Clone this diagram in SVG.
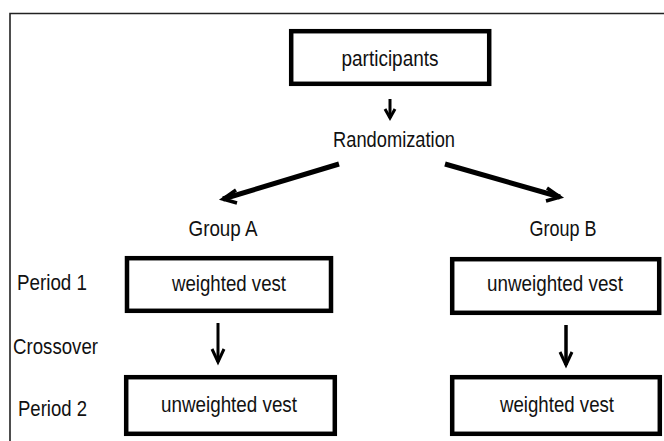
<svg xmlns="http://www.w3.org/2000/svg" width="664" height="441" viewBox="0 0 664 441">
<style>
.box{fill:#fff;stroke:#000;stroke-width:4.5}
.t{font-family:"Liberation Sans",Arial,sans-serif;font-size:22px;fill:#111;text-anchor:middle}
.l{text-anchor:start}
.c{fill:none;stroke:#000;stroke-linecap:butt;stroke-linejoin:miter}
</style>
<rect width="664" height="441" fill="#fff"/>
<g id="frame"><path d="M10 441 V13.5 H664" fill="none" stroke="#222" stroke-width="1.6"/></g>
<g id="participants"><rect class="box" x="291.2" y="31.2" width="198" height="52.6"/><text class="t" x="390" y="66" textLength="97" lengthAdjust="spacingAndGlyphs">participants</text></g>
<g id="randomization"><text class="t" x="394" y="147" textLength="122" lengthAdjust="spacingAndGlyphs">Randomization</text></g>
<g id="groupA"><text class="t" x="223" y="236" textLength="69" lengthAdjust="spacingAndGlyphs">Group A</text></g>
<g id="groupB"><text class="t" x="563" y="236" textLength="67" lengthAdjust="spacingAndGlyphs">Group B</text></g>
<g id="period1"><text class="t l" x="17" y="290" textLength="70" lengthAdjust="spacingAndGlyphs">Period 1</text></g>
<g id="crossover"><text class="t l" x="13" y="354" textLength="85" lengthAdjust="spacingAndGlyphs">Crossover</text></g>
<g id="period2"><text class="t l" x="18" y="416" textLength="69" lengthAdjust="spacingAndGlyphs">Period 2</text></g>
<g id="a1"><rect class="box" x="127" y="258.2" width="204" height="52.6"/><text class="t" x="229" y="291" textLength="114" lengthAdjust="spacingAndGlyphs">weighted vest</text></g>
<g id="b1"><rect class="box" x="452.2" y="259.2" width="207" height="53.6"/><text class="t" x="555" y="291" textLength="136" lengthAdjust="spacingAndGlyphs">unweighted vest</text></g>
<g id="a2"><rect class="box" x="126.2" y="377.2" width="208.6" height="56.6"/><text class="t" x="229" y="412" textLength="136" lengthAdjust="spacingAndGlyphs">unweighted vest</text></g>
<g id="b2"><rect class="box" x="452.2" y="377.2" width="207.6" height="56.6"/><text class="t" x="557" y="412" textLength="114" lengthAdjust="spacingAndGlyphs">weighted vest</text></g>
<g id="connectors">
<path class="c" d="M390 99 V118" stroke-width="3"/>
<path class="c" d="M385 109 L390 118 L395 109" stroke-width="3"/>
<path class="c" d="M339 164 L223 199" stroke-width="5"/>
<path class="c" d="M236 190 L223 199 L237 203" stroke-width="3.5"/>
<path class="c" d="M445 164 L560 197" stroke-width="5"/>
<path class="c" d="M547 188 L560 197 L546 201" stroke-width="3.5"/>
<path class="c" d="M218 323 V362" stroke-width="3"/>
<path class="c" d="M212 349 L218 362 L224 349" stroke-width="3"/>
<path class="c" d="M566 325 V365" stroke-width="3.5"/>
<path class="c" d="M560 352 L566 365 L572 352" stroke-width="3"/>
</g>
</svg>
